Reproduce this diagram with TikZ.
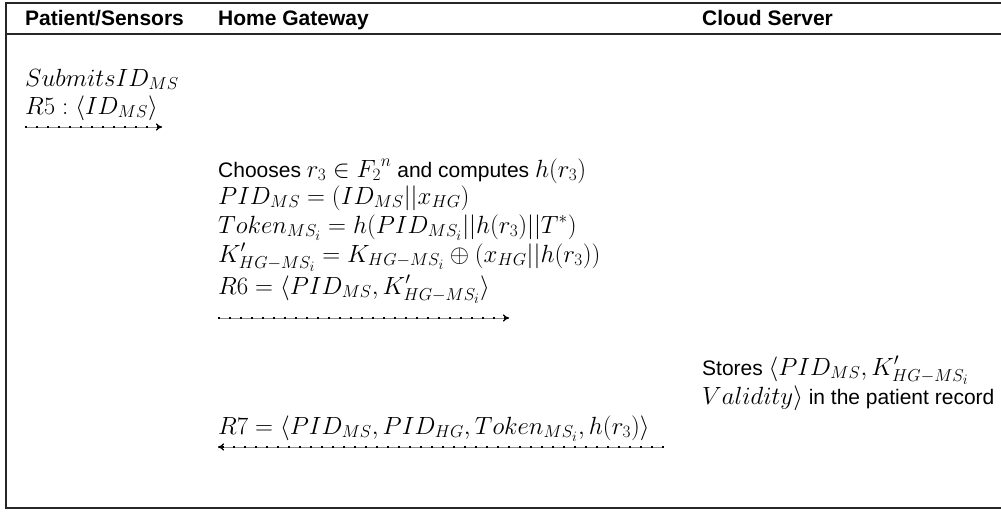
\documentclass[tikz,border=0pt]{standalone}
\usepackage{fontspec}
\setmainfont{Liberation Sans}
\DeclareMathSizes{21}{25}{19}{15}
\usetikzlibrary{arrows.meta}
\begin{document}
\begin{tikzpicture}[x=1pt,y=-1pt,
  txt/.style={anchor=base west,inner sep=0pt,font=\fontsize{21}{27}\selectfont},
  head/.style={txt,font=\fontsize{21}{27}\selectfont\bfseries},
  msg/.style={draw=black!45,line width=0.9pt,-{To[length=6pt,width=7pt]},
    postaction={draw=black,line width=1.3pt,dash pattern=on 2pt off 9pt,-{To[length=6pt,width=7pt]}}},
  frame/.style={line width=1.7pt,draw=black!85}]
\useasboundingbox (0,0) rectangle (1001,512);
% table frame and header rule
\draw[frame] (1001,3) -- (6,3) -- (6,508) -- (1001,508);
\draw[frame] (6,34) -- (1001,34);
% column headings
\node[head] (hps) at (25,25) {Patient/Sensors};
\node[head] (hhg) at (218,25) {Home Gateway};
\node[head] (hcs) at (702,25) {Cloud Server};
% patient / sensors
\node[txt] (sub) at (25,86) {$Submits ID_{MS}$};
\node[txt] (r5) at (25,114) {$R5:\langle ID_{MS}\rangle$};
\coordinate (r5a) at (25,127);
\coordinate (r5b) at (162,127);
\draw[msg] (r5a) -- (r5b);
% home gateway
\node[txt] (ch) at (218,177) {Chooses $r_3\in {F_2}^n$ and computes $h(r_3)$};
\node[txt] (pid) at (218,204) {$PID_{MS}=(ID_{MS}||x_{HG})$};
\node[txt] (tok) at (218,233) {$Token_{MS_i}=h(PID_{MS_i}||h(r_3)||T^{*})$};
\node[txt] (kp) at (218,262) {$K'_{HG-MS_i}=K_{HG-MS_i}\oplus(x_{HG}||h(r_3))$};
\node[txt] (r6) at (218,294) {$R6=\langle PID_{MS},K'_{HG-MS_i}\rangle$};
\coordinate (r6a) at (218,318);
\coordinate (r6b) at (509,318);
\draw[msg] (r6a) -- (r6b);
% cloud server
\node[txt] (st1) at (702,375) {Stores $\langle PID_{MS},K'_{HG-MS_i}$};
\node[txt] (st2) at (702,404) {$Validity\rangle$ in the patient record};
% reply to the gateway
\node[txt] (r7) at (218,434) {$R7=\langle PID_{MS},PID_{HG},Token_{MS_i},h(r_3)\rangle$};
\coordinate (r7a) at (664,447);
\coordinate (r7b) at (218,447);
\draw[msg] (r7a) -- (r7b);
\end{tikzpicture}
\end{document}
